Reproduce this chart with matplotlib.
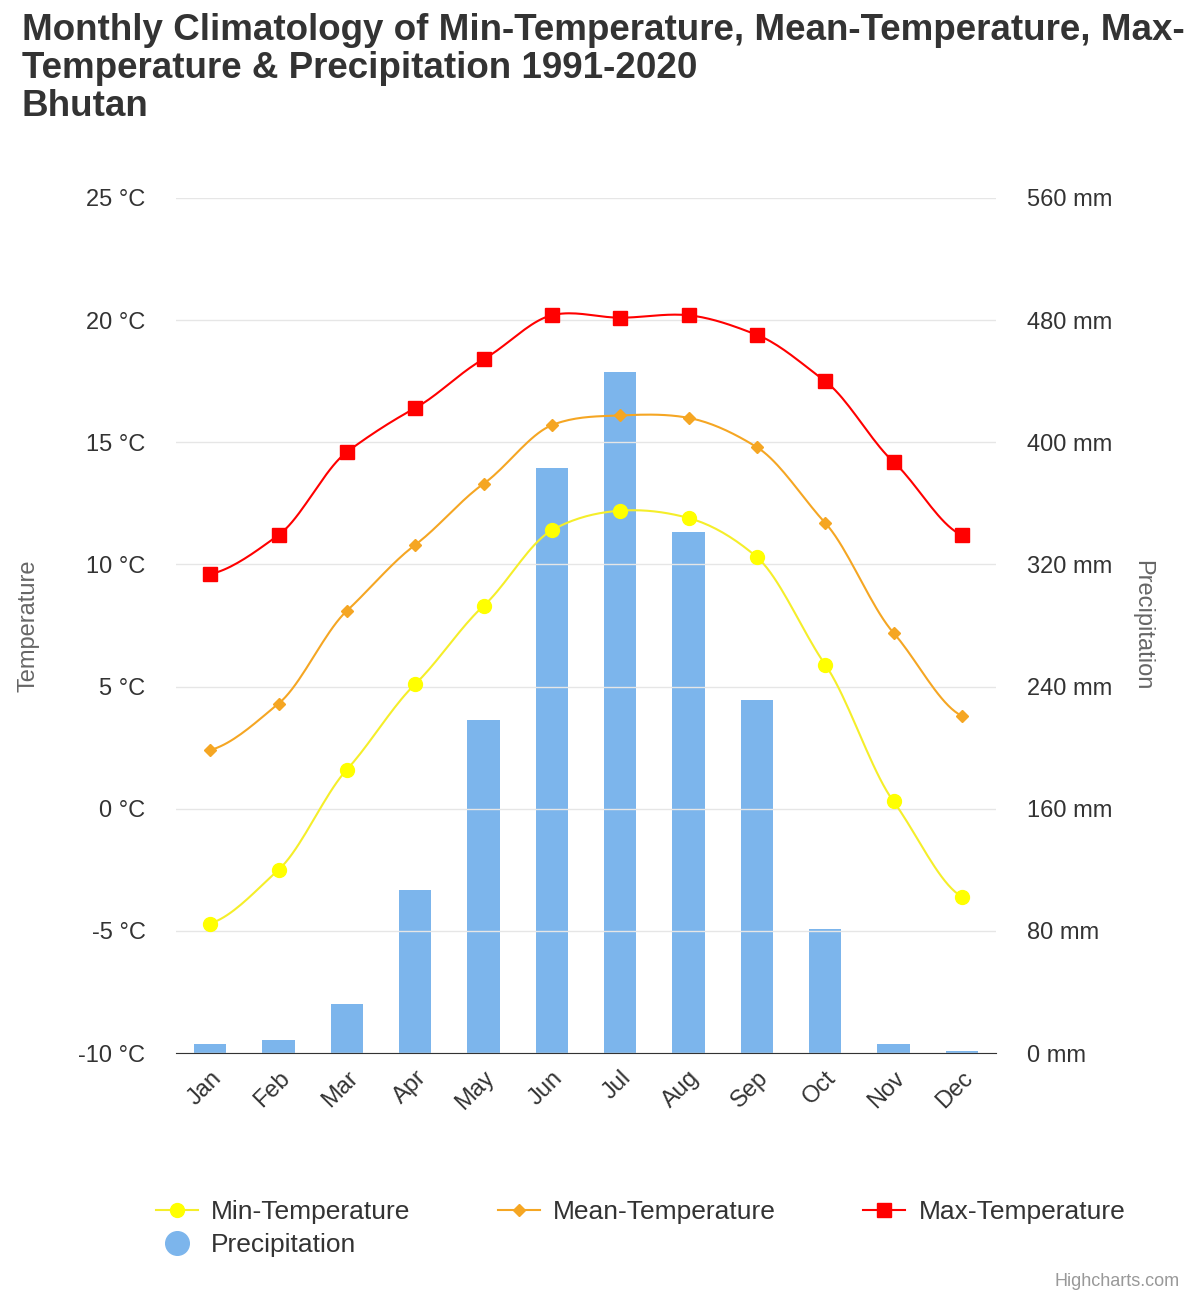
import numpy as np
import matplotlib.pyplot as plt
from matplotlib.lines import Line2D

plt.rcParams['font.family'] = ['Liberation Sans', 'DejaVu Sans']

months = ['Jan', 'Feb', 'Mar', 'Apr', 'May', 'Jun', 'Jul', 'Aug', 'Sep', 'Oct', 'Nov', 'Dec']
min_temp = [-4.7, -2.5, 1.6, 5.1, 8.3, 11.4, 12.2, 11.9, 10.3, 5.9, 0.3, -3.6]
mean_temp = [2.4, 4.3, 8.1, 10.8, 13.3, 15.7, 16.1, 16.0, 14.8, 11.7, 7.2, 3.8]
max_temp = [9.6, 11.2, 14.6, 16.4, 18.4, 20.2, 20.1, 20.2, 19.4, 17.5, 14.2, 11.2]
precip = [6, 8.5, 32, 107, 218, 383, 446, 341, 231, 81, 6, 1.5]


def spline(x, y, n=20):
    # Catmull-Rom smoothing, just for the look of the highcharts spline
    x = np.asarray(x, float)
    y = np.asarray(y, float)
    xs, ys = [], []
    for i in range(len(x) - 1):
        p0 = y[i - 1] if i > 0 else y[i]
        p3 = y[i + 2] if i + 2 < len(y) else y[i + 1]
        p1, p2 = y[i], y[i + 1]
        t = np.linspace(0, 1, n, endpoint=False)
        m1 = (p2 - p0) / 2 * 0.8
        m2 = (p3 - p1) / 2 * 0.8
        h00 = 2 * t**3 - 3 * t**2 + 1
        h10 = t**3 - 2 * t**2 + t
        h01 = -2 * t**3 + 3 * t**2
        h11 = t**3 - t**2
        ys.append(h00 * p1 + h10 * m1 + h01 * p2 + h11 * m2)
        xs.append(x[i] + t * (x[i + 1] - x[i]))
    xs.append([x[-1]])
    ys.append([y[-1]])
    return np.concatenate(xs), np.concatenate(ys)


fig = plt.figure(figsize=(12, 13), dpi=100)
ax = fig.add_axes([176 / 1200, 1 - 1053 / 1300, 820 / 1200, 855 / 1300])
ax2 = ax.twinx()
ax.set_zorder(ax2.get_zorder() + 1)
ax.patch.set_visible(False)

x = np.arange(len(months))
ax2.bar(x, precip, width=0.47, color='#7cb5ec', zorder=2)
ax2.set_ylim(0, 560)
ax2.set_yticks(range(0, 561, 80))
ax2.set_yticklabels([f'{v} mm' for v in range(0, 561, 80)])

series = [(min_temp, '#ffff00', 'o', 10), (mean_temp, '#f5a623', 'D', 6.5), (max_temp, '#ff0000', 's', 10)]
for vals, c, m, ms in series:
    sx, sy = spline(x, vals)
    ax.plot(sx, sy, color=c if c != '#ffff00' else '#f5ee2a', lw=1.5, zorder=3)
    ax.plot(x, vals, ls='none', marker=m, color=c, ms=ms, zorder=4)

ax.set_ylim(-10, 25)
ax.set_xlim(-0.5, 11.5)
ax.set_yticks(range(-10, 26, 5))
ax.set_yticklabels([f'{v} °C' for v in range(-10, 26, 5)])
ax.set_xticks(x)
ax.set_xticklabels(months, rotation=45, ha='right', rotation_mode='anchor')
ax.grid(axis='y', color='#e6e6e6', lw=1)
ax.set_axisbelow(True)
for a in (ax, ax2):
    for s in ('top', 'right', 'left'):
        a.spines[s].set_visible(False)
    a.tick_params(length=0, labelsize=17, colors='#333333')
ax.spines['bottom'].set_color('#333333')
ax2.spines['bottom'].set_visible(False)
ax.tick_params(axis='y', pad=22)
ax2.tick_params(axis='y', pad=22)
ax.tick_params(axis='x', pad=10)
ax.set_ylabel('Temperature', fontsize=17, color='#666666', labelpad=28)
ax2.set_ylabel('Precipitation', fontsize=17, color='#666666', rotation=270, labelpad=30)

fig.text(0.018, 0.99, 'Monthly Climatology of Min-Temperature, Mean-Temperature, Max-\nTemperature & Precipitation 1991-2020\nBhutan',
         fontsize=26.5, fontweight='bold', color='#333333', va='top', linespacing=1.12)

# order so that column filling gives rows: min, mean, max / precip
handles = [
    Line2D([], [], color='#f5ee2a', marker='o', mfc='#ffff00', mec='#ffff00', ms=10, lw=1.5),
    Line2D([], [], ls='none', marker='o', color='#7cb5ec', ms=17),
    Line2D([], [], color='#f5a623', marker='D', ms=6.5, lw=1.5),
    Line2D([], [], color='#ff0000', marker='s', ms=10, lw=1.5),
]
fig.legend(handles, ['Min-Temperature', 'Precipitation', 'Mean-Temperature', 'Max-Temperature'],
           loc='upper left', bbox_to_anchor=(0.11, 0.095), ncol=3, frameon=False,
           fontsize=19, labelcolor='#333333', handlelength=1.6, columnspacing=3.3,
           handletextpad=0.5, labelspacing=0.35)
fig.text(0.983, 0.008, 'Highcharts.com', ha='right', va='bottom', fontsize=13, color='#999999')

fig.savefig('out.png', dpi=100)
